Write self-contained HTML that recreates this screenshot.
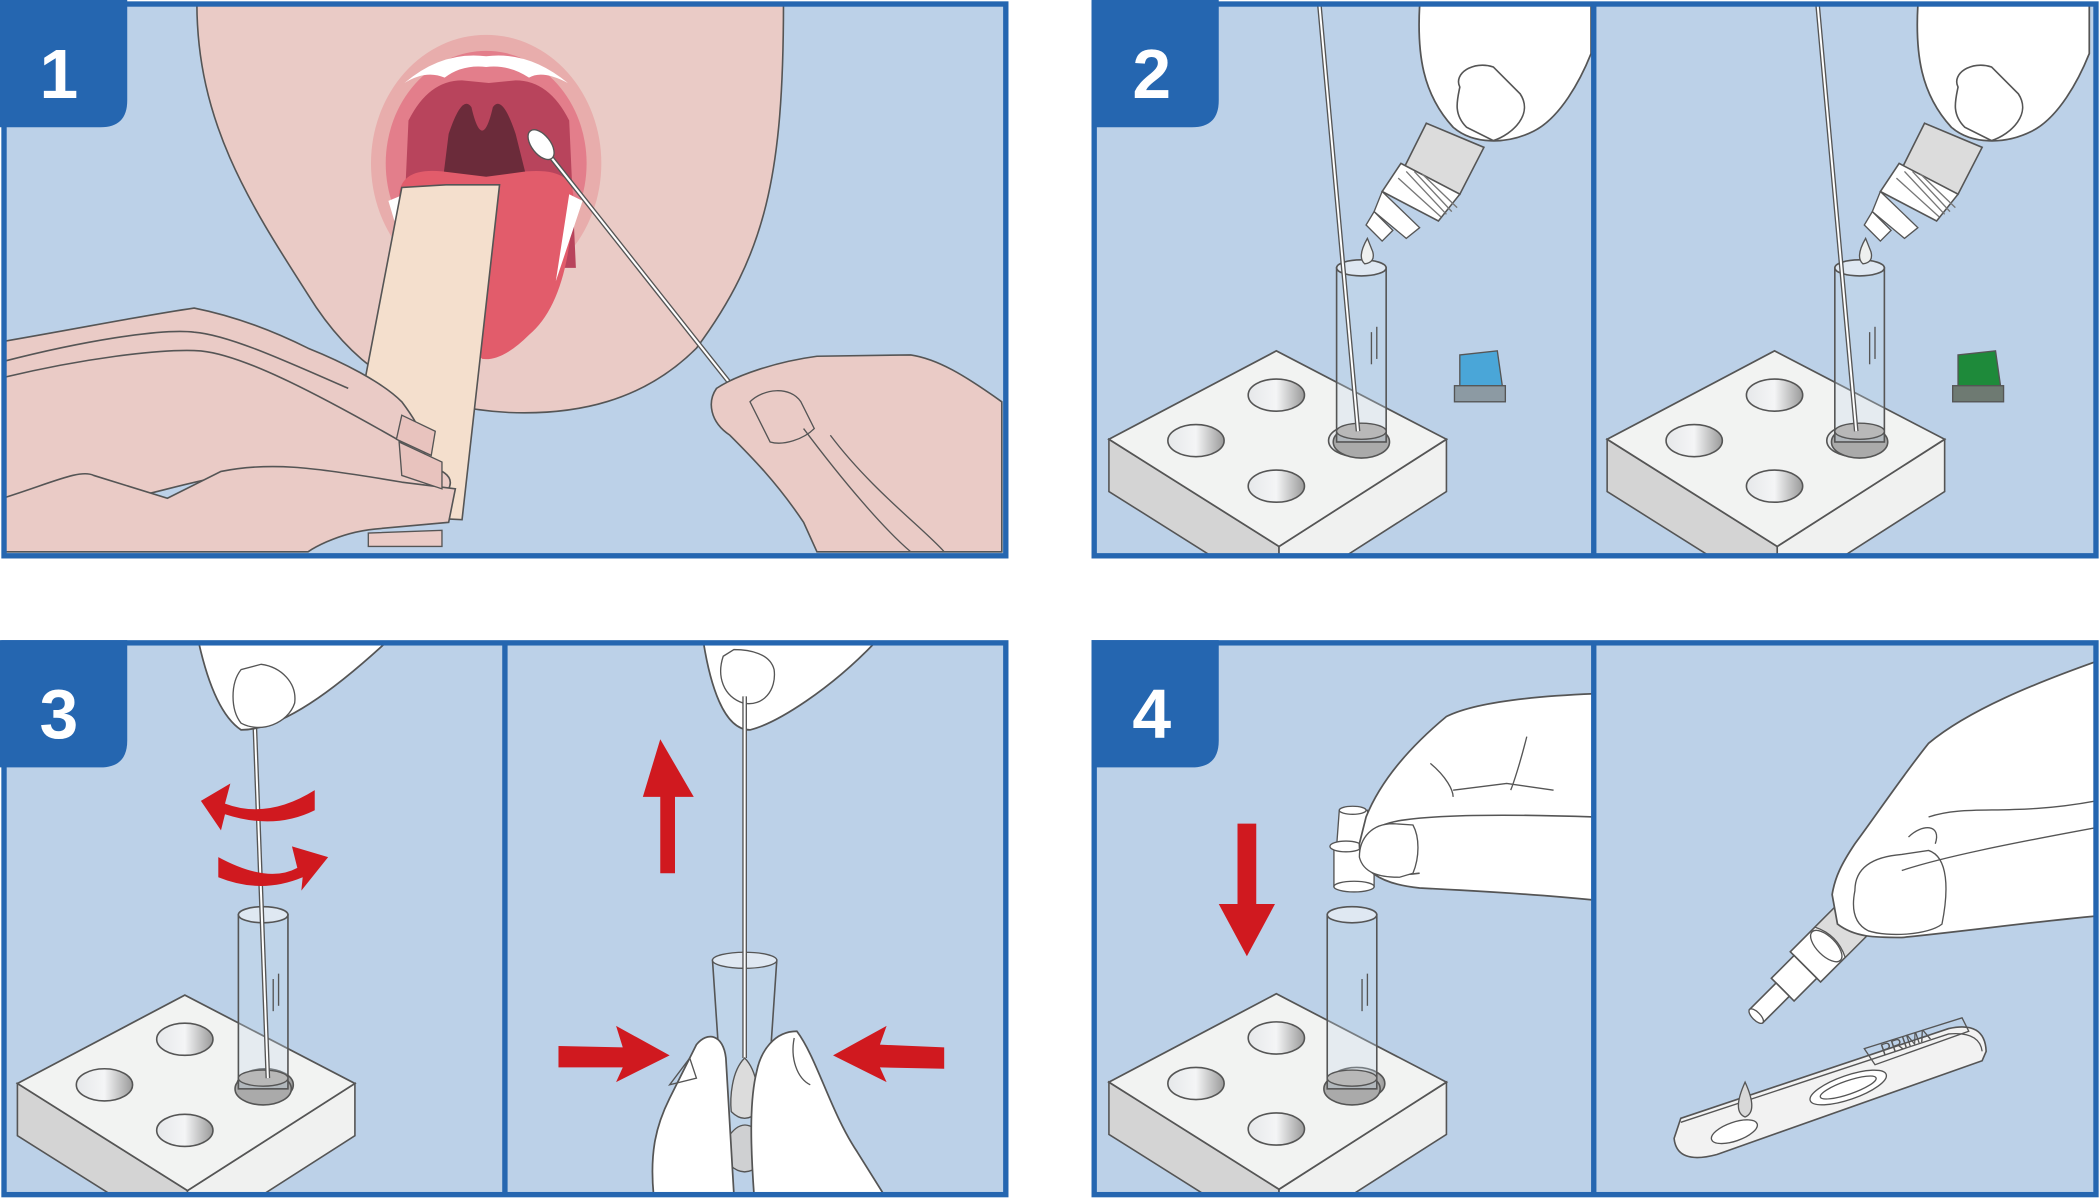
<!DOCTYPE html>
<html><head><meta charset="utf-8"><style>
html,body{margin:0;padding:0;background:#fff;}
svg{display:block;}
text{font-family:"Liberation Sans",sans-serif;}
</style></head><body>
<svg width="2100" height="1200" viewBox="0 0 1568 896" xmlns="http://www.w3.org/2000/svg">
<defs>
<linearGradient id="hole" x1="0" x2="1"><stop offset="0" stop-color="#e6e8ea"/><stop offset="0.5" stop-color="#f4f5f6"/><stop offset="1" stop-color="#9a9a9a"/></linearGradient>
<clipPath id="c1"><rect x="3" y="3" width="748" height="412"/></clipPath>
<clipPath id="c2a"><rect x="817" y="3" width="373" height="412"/></clipPath>
<clipPath id="c2b"><rect x="1190" y="3" width="375" height="412"/></clipPath>
<clipPath id="c3a"><rect x="3" y="480" width="374" height="412"/></clipPath>
<clipPath id="c3b"><rect x="377" y="480" width="374" height="412"/></clipPath>
<clipPath id="c4a"><rect x="817" y="480" width="373" height="412"/></clipPath>
<clipPath id="c4b"><rect x="1190" y="480" width="375" height="412"/></clipPath>
<g id="block">
  <polygon points="0,66 0,105 127,185 127,146" fill="#d4d4d4" stroke="#555" stroke-width="1.2"/>
  <polygon points="127,146 127,185 252,105 252,66" fill="#f0f1f0" stroke="#555" stroke-width="1.2"/>
  <polygon points="0,66 125,0 252,66 127,146" fill="#f2f3f2" stroke="#555" stroke-width="1.3"/>
  <ellipse cx="125" cy="33" rx="21" ry="12" fill="url(#hole)" stroke="#555" stroke-width="1.2"/>
  <ellipse cx="65" cy="67" rx="21" ry="12" fill="url(#hole)" stroke="#555" stroke-width="1.2"/>
  <ellipse cx="125" cy="101" rx="21" ry="12" fill="url(#hole)" stroke="#555" stroke-width="1.2"/>
  <ellipse cx="185" cy="67" rx="21" ry="12" fill="url(#hole)" stroke="#555" stroke-width="1.2"/>
</g>
<g id="tube">
  <ellipse cx="18.5" cy="130" rx="21" ry="12" fill="#aaa" stroke="#555" stroke-width="1.2"/>
  <rect x="0" y="0" width="37" height="130" fill="#c8d9ec" fill-opacity="0.3" stroke="#555" stroke-width="1.2"/>
  <ellipse cx="18.5" cy="0" rx="18.5" ry="6" fill="#dfe8f2" stroke="#555" stroke-width="1.2"/>
  <ellipse cx="18.5" cy="122" rx="18.5" ry="6" fill="#b8b8b8" stroke="#555"/>
  <line x1="26" y1="48" x2="26" y2="72" stroke="#555"/><line x1="30" y1="44" x2="30" y2="68" stroke="#555"/>
</g>
<g id="drop">
  <path d="M1060,4 C1058,40 1062,70 1085,95 C1100,108 1125,108 1145,98 C1165,88 1180,60 1188,40 L1188,4 Z" fill="#fff" stroke="#555" stroke-width="1.3"/>
  <path d="M1090,65 C1085,55 1100,45 1115,50 L1135,70 C1145,85 1130,100 1115,105 L1095,95 C1085,85 1088,75 1090,65 Z" fill="#fff" stroke="#555" stroke-width="1.2"/>
  <polygon points="1065,92 1108,110 1090,145 1048,126" fill="#dcdcdc" stroke="#555" stroke-width="1.2"/>
  <polygon points="1046,122 1090,145 1074,165 1032,143" fill="#fff" stroke="#555" stroke-width="1.2"/>
  <path d="M1050,128 L1080,160 M1056,128 L1084,158 M1044,133 L1076,162 M1062,130 L1088,155" stroke="#777" stroke-width="1"/>
  <polygon points="1032,143 1060,170 1050,178 1026,158" fill="#fff" stroke="#555"/>
  <polygon points="1026,158 1040,172 1032,180 1020,168" fill="#fff" stroke="#555"/>
  <path d="M1021,178 Q1013,192 1019,197 Q1027,196 1025,188 Z" fill="#eef0ef" stroke="#555"/>
</g>
</defs>
<rect width="1568" height="896" fill="#fff"/>

<!-- Panel 1 -->
<g clip-path="url(#c1)">
<rect x="3" y="3" width="748" height="412" fill="#bcd1e8"/>
<path d="M147,2 L585,2 C585,130 572,190 520,260 C480,300 430,310 380,308 C320,305 270,285 230,220 C185,150 147,90 147,2 Z" fill="#eacbc6" stroke="#555" stroke-width="1.2"/>
<ellipse cx="363" cy="122" rx="86" ry="96" fill="#e8adac"/>
<ellipse cx="363" cy="122" rx="75" ry="84" fill="#e37e8b"/>
<path d="M305,90 Q320,60 345,60 L365,62 L385,60 Q410,60 425,90 L430,200 L300,200 Z" fill="#b8445c"/>
<path d="M335,100 Q345,70 352,80 Q360,115 368,80 Q375,70 385,100 L395,140 L330,140 Z" fill="#6b2b3a"/>
<path d="M302,62 Q330,38 363,42 Q395,38 424,62 Q405,52 395,58 Q380,48 363,50 Q345,48 332,58 Q318,52 302,62 Z" fill="#fff"/>
<path d="M298,145 Q300,125 330,128 L363,132 L393,128 Q430,125 428,150 Q425,225 395,250 Q375,270 360,268 Q320,230 305,210 Q298,180 298,145 Z" fill="#e25c6b"/>
<path d="M290,150 L302,145 L305,200 Z M435,150 L425,145 L415,210 Z" fill="#fff"/>
<polygon points="333,138 373,138 345,388 262,384 256,370 300,140" fill="#f4dfcd" stroke="#555" stroke-width="1.2"/>
<line x1="404" y1="108" x2="552" y2="295" stroke="#555" stroke-width="3.6"/>
<line x1="404" y1="108" x2="552" y2="295" stroke="#fff" stroke-width="1.6"/>
<ellipse cx="404" cy="108" rx="7" ry="13" transform="rotate(-38 404 108)" fill="#fff" stroke="#555"/>
<path d="M2,255 C60,245 110,235 145,230 C170,235 200,245 230,260 C255,270 285,285 300,300 C315,320 325,340 310,345 C330,350 340,355 335,365 C320,370 290,365 270,360 L250,355 C230,355 200,352 170,355 C140,360 110,370 90,373 C70,370 50,375 30,382 L2,385 Z" fill="#eacbc6" stroke="#555" stroke-width="1.2"/>
<path d="M2,270 C60,255 120,245 145,248 C170,250 210,268 260,290" fill="none" stroke="#555" stroke-width="1.2"/>
<path d="M2,282 C60,268 120,260 150,262 C180,265 230,290 300,330" fill="none" stroke="#555" stroke-width="1.2"/>
<path d="M2,372 C40,360 60,350 70,355 L125,372 L165,352 C200,345 230,348 300,360 L340,365 L335,390 L280,395 C250,398 230,412 230,412 L2,412 Z" fill="#eacbc6" stroke="#555" stroke-width="1.2"/>
<path d="M298,330 L330,345 L330,365 L300,355 Z M300,310 L325,322 L322,340 L296,328 Z" fill="#e8c3be" stroke="#555"/>
<path d="M275,398 L330,396 L330,408 L275,408 Z" fill="#eacbc6" stroke="#555"/>
<path d="M748,300 C720,280 700,268 680,265 L610,266 C580,270 550,280 535,290 C528,300 530,315 545,325 C560,340 580,360 600,390 L610,412 L748,412 Z" fill="#eacbc6" stroke="#555" stroke-width="1.2"/>
<path d="M560,300 C570,290 590,288 598,300 L608,320 C600,328 585,333 575,330 Z" fill="#eacbc6" stroke="#555"/>
<path d="M600,320 C630,360 660,395 680,412 M620,325 C650,365 690,395 705,412" fill="none" stroke="#555"/>
</g>
<rect x="3" y="3" width="748" height="412" fill="none" stroke="#2566b0" stroke-width="4"/>
<path d="M0,0 H95 V75 Q95,95 75,95 H0 Z" fill="#2566b0"/>
<text x="44" y="73" font-size="52" font-weight="bold" fill="#fff" text-anchor="middle">1</text>

<!-- Panel 2 -->
<g clip-path="url(#c2a)">
<rect x="817" y="3" width="373" height="412" fill="#bcd1e8"/>
<use href="#block" x="828" y="262"/>
<use href="#tube" x="998" y="200"/>
<line x1="985" y1="2" x2="1014" y2="322" stroke="#555" stroke-width="3.5"/><line x1="985" y1="2" x2="1014" y2="322" stroke="#fff" stroke-width="1.5"/>
<use href="#drop"/>
<path d="M1090,265 L1118,262 L1122,290 L1090,292 Z" fill="#4aa6d8" stroke="#555"/>
<rect x="1086" y="288" width="38" height="12" fill="#8c9aa3" stroke="#555"/>
</g>
<g clip-path="url(#c2b)">
<rect x="1190" y="3" width="375" height="412" fill="#bcd1e8"/>
<use href="#block" x="1200" y="262"/>
<use href="#tube" x="1370" y="200"/>
<line x1="1357" y1="2" x2="1386" y2="322" stroke="#555" stroke-width="3.5"/><line x1="1357" y1="2" x2="1386" y2="322" stroke="#fff" stroke-width="1.5"/>
<use href="#drop" x="372"/>
<path d="M1462,265 L1490,262 L1494,290 L1462,292 Z" fill="#1e8a3a" stroke="#555"/>
<rect x="1458" y="288" width="38" height="12" fill="#6e7a72" stroke="#555"/>
</g>
<rect x="817" y="3" width="748" height="412" fill="none" stroke="#2566b0" stroke-width="4"/>
<line x1="1190" y1="3" x2="1190" y2="415" stroke="#2566b0" stroke-width="4"/>
<path d="M815,0 H910 V75 Q910,95 890,95 H815 Z" fill="#2566b0"/>
<text x="860" y="73" font-size="52" font-weight="bold" fill="#fff" text-anchor="middle">2</text>

<!-- Panel 3 -->
<g clip-path="url(#c3a)">
<rect x="3" y="480" width="374" height="412" fill="#bcd1e8"/>
<use href="#block" x="13" y="743"/>
<use href="#tube" x="178" y="683"/>
<line x1="190" y1="535" x2="200" y2="805" stroke="#555" stroke-width="3.5"/><line x1="190" y1="535" x2="200" y2="805" stroke="#fff" stroke-width="1.5"/>
<path d="M148,478 C155,510 165,535 180,545 C210,545 250,515 290,478 Z" fill="#fff" stroke="#555" stroke-width="1.3"/>
<path d="M180,500 C172,510 172,530 180,540 C195,548 215,540 220,525 C222,510 210,498 195,496 Z" fill="#fff" stroke="#555"/>
<path d="M235,590 Q200,612 168,600 L172,585 L150,598 L165,620 L168,608 Q205,620 235,605 Z" fill="#d0191f"/>
<path d="M163,640 Q200,660 222,648 L218,632 L245,640 L225,665 L226,655 Q195,668 163,655 Z" fill="#d0191f"/>
</g>
<g clip-path="url(#c3b)">
<rect x="377" y="480" width="374" height="412" fill="#bcd1e8"/>
<path d="M525,478 C530,510 540,545 560,545 C580,540 620,515 655,478 Z" fill="#fff" stroke="#555" stroke-width="1.3"/>
<path d="M540,490 C535,505 540,520 555,525 C570,528 580,515 578,500 C575,488 560,485 548,485 Z" fill="#fff" stroke="#555"/>
<path d="M532,717 L580,717 L570,865 Q556,880 542,865 Z" fill="#c8d9ec" fill-opacity="0.3" stroke="#555" stroke-width="1.2"/>
<ellipse cx="556" cy="717" rx="24" ry="6" fill="#dfe8f2" stroke="#555"/>
<path d="M543,850 Q556,830 570,850 L567,870 Q556,880 545,870 Z" fill="#cfd0d2" stroke="#555"/>
<line x1="556" y1="520" x2="556" y2="790" stroke="#555" stroke-width="3.5"/><line x1="556" y1="520" x2="556" y2="790" stroke="#fff" stroke-width="1.5"/>
<path d="M556,790 C546,800 545,820 546,830 Q556,840 566,830 C567,820 566,800 556,790 Z" fill="#dcdcdc" stroke="#555"/>
<path d="M488,892 C485,860 490,840 500,820 L520,780 C528,770 540,772 542,790 L548,892 Z" fill="#fff" stroke="#555" stroke-width="1.3"/>
<path d="M500,810 L515,790 L520,805 Z" fill="none" stroke="#555"/>
<path d="M563,892 C560,850 560,820 565,800 C568,785 578,770 595,770 C610,790 620,830 640,860 L660,892 Z" fill="#fff" stroke="#555" stroke-width="1.3"/>
<path d="M593,775 C590,790 595,805 605,810" fill="none" stroke="#555"/>
<polygon points="493,552 518,595 504,595 504,652 493,652 493,595 480,595" fill="#d0191f"/>
<polygon points="417,781 465,782 460,766 500,788 460,808 465,797 417,797" fill="#d0191f"/>
<polygon points="705,782 657,780 662,766 622,788 662,808 657,797 705,798" fill="#d0191f"/>
</g>
<rect x="3" y="480" width="748" height="412" fill="none" stroke="#2566b0" stroke-width="4"/>
<line x1="377" y1="480" x2="377" y2="892" stroke="#2566b0" stroke-width="4"/>
<path d="M0,478 H95 V553 Q95,573 75,573 H0 Z" fill="#2566b0"/>
<text x="44" y="551" font-size="52" font-weight="bold" fill="#fff" text-anchor="middle">3</text>

<!-- Panel 4 -->
<g clip-path="url(#c4a)">
<rect x="817" y="480" width="373" height="412" fill="#bcd1e8"/>
<use href="#block" x="828" y="742"/>
<use href="#tube" x="991" y="683"/>
<path d="M1000,605 L1021,605 L1024,632 L998,632 Z" fill="#fff" stroke="#555"/>
<ellipse cx="1010" cy="605" rx="10" ry="3" fill="#fff" stroke="#555"/>
<rect x="996" y="632" width="30" height="30" fill="#fff" stroke="#555"/>
<ellipse cx="1011" cy="662" rx="15" ry="4" fill="#fff" stroke="#555"/>
<ellipse cx="1005" cy="632" rx="12" ry="4" fill="#fff" stroke="#555"/>
<path d="M1190,518 C1140,520 1100,525 1080,535 C1050,560 1030,585 1020,610 L1015,630 C1015,650 1030,660 1060,663 C1100,665 1150,668 1190,672 Z" fill="#fff" stroke="#555" stroke-width="1.3"/>
<path d="M1190,610 C1130,608 1080,608 1050,612 C1025,615 1015,625 1020,640 C1025,650 1040,655 1060,652" fill="none" stroke="#555" stroke-width="1.2"/>
<path d="M1040,615 C1025,615 1015,625 1015,640 C1018,652 1030,655 1045,655 L1055,652 C1060,640 1060,625 1055,616 Z" fill="#fff" stroke="#555"/>
<path d="M1085,590 L1125,585 L1160,590 M1068,570 C1080,580 1085,590 1085,595 M1140,550 C1135,570 1130,585 1128,590" fill="none" stroke="#555"/>
<polygon points="924,615 938,615 938,675 952,675 931,714 910,675 924,675" fill="#d0191f"/>
</g>
<g clip-path="url(#c4b)">
<rect x="1190" y="480" width="375" height="412" fill="#bcd1e8"/>
<g transform="translate(1382,688) rotate(45)">
  <rect x="-16" y="0" width="32" height="48" fill="#fff" stroke="#555" stroke-width="1.2"/>
  <path d="M-16,0 L16,0 L16,22 Q0,14 -16,22 Z" fill="#dcdcdc" stroke="#555"/>
  <ellipse cx="0" cy="26" rx="15" ry="7" fill="#fff" stroke="#555"/>
  <rect x="-12" y="48" width="24" height="24" fill="#fff" stroke="#555" stroke-width="1.2"/>
  <rect x="-7" y="72" width="14" height="28" fill="#fff" stroke="#555" stroke-width="1.2"/>
  <ellipse cx="0" cy="100" rx="7" ry="3" fill="#fff" stroke="#555"/>
</g>
<path d="M1565,494 C1520,510 1470,530 1440,555 C1420,580 1400,610 1385,630 C1375,645 1370,655 1368,668 L1372,690 C1385,700 1400,700 1420,700 C1470,695 1520,688 1565,684 Z" fill="#fff" stroke="#555" stroke-width="1.3"/>
<path d="M1385,665 C1385,650 1395,640 1420,638 L1440,635 C1455,640 1455,665 1450,690 C1440,698 1410,700 1395,695 C1385,690 1382,680 1385,665 Z" fill="#fff" stroke="#555"/>
<path d="M1420,650 C1450,640 1500,630 1565,618 M1440,610 C1470,600 1500,610 1565,598" fill="none" stroke="#555"/>
<path d="M1425,625 C1435,615 1450,615 1445,630" fill="none" stroke="#555"/>
<path d="M1255,835 L1455,768 Q1482,762 1483,785 L1480,792 L1282,862 Q1252,870 1250,850 Z" fill="#f2f2f2" stroke="#555" stroke-width="1.2"/>
<path d="M1255,838 L1455,772 Q1478,770 1480,785" fill="none" stroke="#555"/>
<path d="M1392,783 L1465,760 L1470,770 L1400,795 Z" fill="none" stroke="#555"/>
<text x="1406" y="788" font-size="12" fill="#555" transform="rotate(-19 1406 788)">PRIMA</text>
<ellipse cx="1295" cy="845" rx="18" ry="7" transform="rotate(-19 1295 845)" fill="#fff" stroke="#555"/>
<ellipse cx="1380" cy="812" rx="30" ry="9" transform="rotate(-19 1380 812)" fill="#fff" stroke="#555"/>
<ellipse cx="1380" cy="812" rx="22" ry="5" transform="rotate(-19 1380 812)" fill="none" stroke="#555"/>
<path d="M1303,808 Q1293,830 1303,834 Q1313,830 1303,808 Z" fill="#d8d8d8" stroke="#555"/>
</g>
<rect x="817" y="480" width="748" height="412" fill="none" stroke="#2566b0" stroke-width="4"/>
<line x1="1190" y1="480" x2="1190" y2="892" stroke="#2566b0" stroke-width="4"/>
<path d="M815,478 H910 V553 Q910,573 890,573 H815 Z" fill="#2566b0"/>
<text x="860" y="551" font-size="52" font-weight="bold" fill="#fff" text-anchor="middle">4</text>
</svg>
</body></html>
